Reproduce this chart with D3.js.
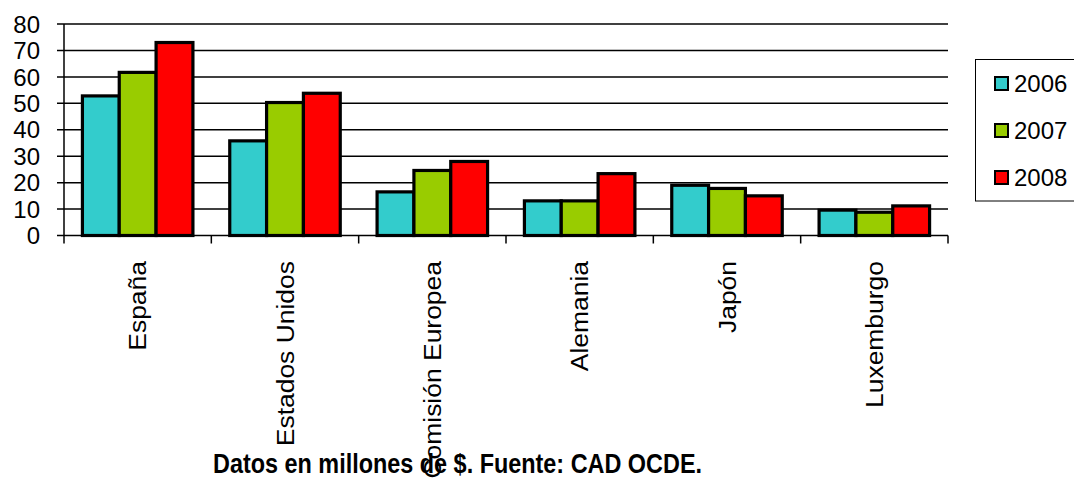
<!DOCTYPE html>
<html>
<head>
<meta charset="utf-8">
<script src="https://cdn.jsdelivr.net/npm/d3@7"></script>
<style>
  html, body { margin: 0; padding: 0; background: #fff; overflow: hidden; }
  svg { display: block; font-family: "Liberation Sans", Arial, sans-serif; }
</style>
</head>
<body>
<svg id="chart" width="1074" height="480"></svg>
<script>
const categories = ["España", "Estados Unidos", "Comisión Europea", "Alemania", "Japón", "Luxemburgo"];
const years = ["2006", "2007", "2008"];
const values2006 = [52.8, 35.8, 16.5, 13.1, 19.0, 9.6];
const values2007 = [61.7, 50.3, 24.6, 13.1, 17.8, 8.8];
const values2008 = [73.0, 53.8, 28.0, 23.4, 15.0, 11.2];
const yTicks = [0, 10, 20, 30, 40, 50, 60, 70, 80];
const colors = ["#33CCCC", "#99CC00", "#FF0000"];
const footer = "Datos en millones de $. Fuente: CAD OCDE.";

const series = [values2006, values2007, values2008];

const svg = d3.select("#chart");

const x = d3.scaleBand().domain(categories).range([64, 948]).padding(0);
const y = d3.scaleLinear().domain([0, 80]).range([235.5, 24]);
const bw = x.bandwidth();
const sub = d3.scaleBand().domain(years).range([bw / 8, bw - bw / 8]).padding(0);

// gridlines
svg.append("g").selectAll("line").data(yTicks.filter(d => d > 0)).join("line")
  .attr("x1", 57).attr("x2", 948)
  .attr("y1", d => y(d)).attr("y2", d => y(d))
  .attr("stroke", "#000").attr("stroke-width", 1.5);

// baseline
svg.append("line").attr("x1", 57).attr("x2", 948).attr("y1", y(0)).attr("y2", y(0))
  .attr("stroke", "#000").attr("stroke-width", 1.5);

// y axis line
svg.append("line").attr("x1", 64).attr("x2", 64).attr("y1", y(80)).attr("y2", y(0))
  .attr("stroke", "#000").attr("stroke-width", 1.5);

// y labels
svg.append("g").selectAll("text").data(yTicks).join("text")
  .attr("x", 40).attr("y", d => y(d))
  .attr("dy", "0.36em")
  .attr("text-anchor", "end")
  .attr("font-size", 24)
  .attr("fill", "#000")
  .text(d => d);

// x ticks
const tickXs = categories.map(c => x(c)).concat([x(categories[categories.length - 1]) + bw]);
svg.append("g").selectAll("line").data(tickXs).join("line")
  .attr("x1", d => d).attr("x2", d => d)
  .attr("y1", y(0)).attr("y2", y(0) + 8)
  .attr("stroke", "#000").attr("stroke-width", 1.5);

// bars
const gBars = svg.append("g");
years.forEach((yr, i) => {
  gBars.append("g").selectAll("rect").data(categories).join("rect")
    .attr("x", c => x(c) + sub(yr))
    .attr("width", sub.bandwidth())
    .attr("y", (c, j) => y(series[i][j]))
    .attr("height", (c, j) => y(0) - y(series[i][j]))
    .attr("fill", colors[i])
    .attr("stroke", "#000")
    .attr("stroke-width", 3.2);
});

// x labels rotated
svg.append("g").selectAll("text").data(categories).join("text")
  .attr("transform", c => `translate(${x(c) + bw / 2},261) rotate(-90) scale(1.08,1)`)
  .attr("dy", "0.36em")
  .attr("text-anchor", "end")
  .attr("font-size", 24.5)
  .attr("fill", "#000")
  .text(c => c);

// legend
const lg = svg.append("g");
lg.append("rect").attr("x", 975.5).attr("y", 59.5).attr("width", 110).attr("height", 141.5)
  .attr("fill", "#fff").attr("stroke", "#000").attr("stroke-width", 1);
const legY = d3.scalePoint().domain(years).range([83.5, 177.5]);
years.forEach((yr, i) => {
  lg.append("rect").attr("x", 995).attr("y", legY(yr) - 6.5).attr("width", 13).attr("height", 13)
    .attr("fill", colors[i]).attr("stroke", "#000").attr("stroke-width", 2);
  lg.append("text").attr("x", 1014).attr("y", legY(yr)).attr("dy", "0.36em")
    .attr("font-size", 24).attr("fill", "#000").text(yr);
});

// footer
svg.append("text")
  .attr("x", 213).attr("y", 473)
  .attr("font-size", 27).attr("font-weight", "bold")
  .attr("textLength", 489).attr("lengthAdjust", "spacingAndGlyphs")
  .attr("fill", "#000")
  .text(footer);
</script>
</body>
</html>
